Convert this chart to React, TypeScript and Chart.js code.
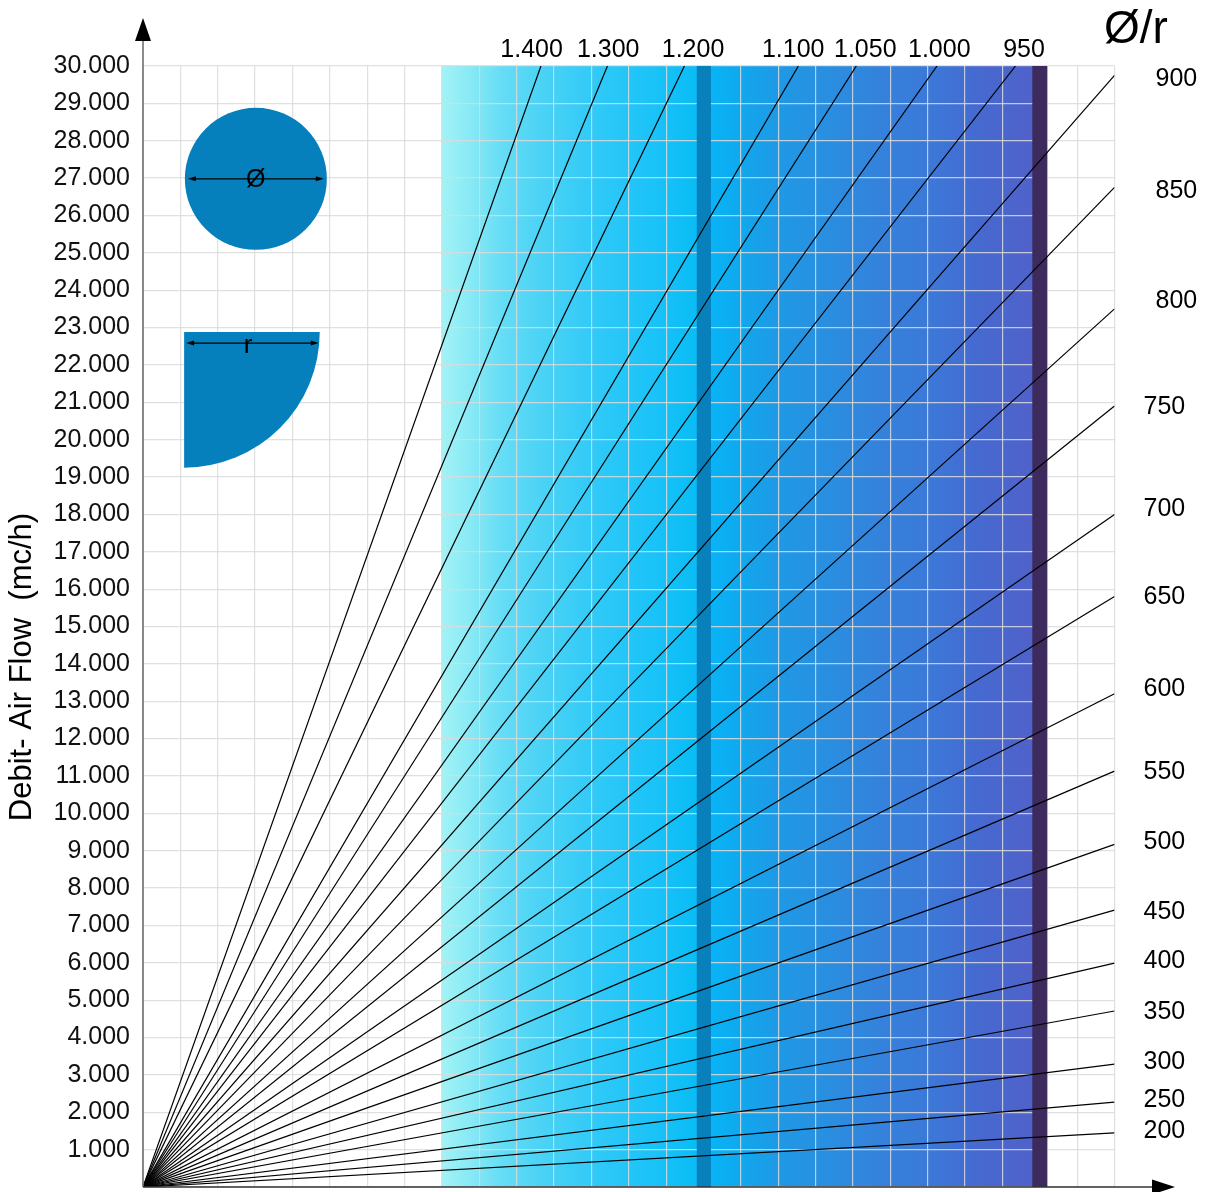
import React, { useEffect, useRef } from 'react';
import { Chart, registerables } from 'chart.js';
Chart.register(...registerables);

const FONT = '"Liberation Sans", Arial, Helvetica, sans-serif';

// Lines leaving through the top edge (flow = 30.000): diameter and x at the top edge
const topDiameters = [1400, 1300, 1200, 1100, 1050, 1000, 950];
const topEndX = [10.65, 12.43, 14.49, 17.54, 19.09, 21.25, 23.35];
// where each top label is centred (x value)
const topLabelX = [10.4, 12.45, 14.72, 17.4, 19.33, 21.31, 23.58];

// Lines leaving through the right edge (x = 26): diameter and flow at the right edge
const rightDiameters = [900, 850, 800, 750, 700, 650, 600, 550, 500, 450, 400, 350, 300, 250, 200];
const rightEndFlow = [29750, 26750, 23500, 20900, 18000, 15800, 13200, 11130, 9170, 7410, 5990, 4710, 3290, 2270, 1450];
// flow level at which each right label is centred
const rightLabelFlow = [29710, 26720, 23760, 20920, 18190, 15840, 13380, 11150, 9280, 7420, 6090, 4730, 3400, 2380, 1550];

const X_MIN = 0;
const X_MAX = 26;
const Y_MIN = 0;
const Y_MAX = 30000;
const Y_STEP = 1000;

// coloured background band and dark stripes (x values)
const bandRange = [8, 24.2];
const stripeRanges = [
  [14.82, 15.2],
  [23.8, 24.2],
];
const stripeColors = ['#0880bc', '#3d2b5d'];
const bandStops: [number, string][] = [
  [8.0, '#a2f3f5'],
  [8.8, '#86e9f5'],
  [9.6, '#66ddf5'],
  [10.6, '#4cd3f5'],
  [12.2, '#2ec9f7'],
  [13.6, '#1bc3f8'],
  [14.8, '#0abcf5'],
  [15.2, '#08b4f6'],
  [16.0, '#10a8ee'],
  [17.0, '#1f99e5'],
  [18.4, '#2a8ee0'],
  [19.7, '#3482dc'],
  [21.1, '#3c78d8'],
  [22.4, '#4669d0'],
  [24.2, '#5260c8'],
];

const fmt = (v: number) =>
  v >= 1000 ? `${Math.floor(v / 1000)}.${String(Math.round(v % 1000)).padStart(3, '0')}` : String(v);

function arrowLine(ctx: CanvasRenderingContext2D, x1: number, x2: number, y: number) {
  ctx.save();
  ctx.strokeStyle = '#000';
  ctx.fillStyle = '#000';
  ctx.lineWidth = 1.2;
  ctx.beginPath();
  ctx.moveTo(x1 + 3, y);
  ctx.lineTo(x2 - 3, y);
  ctx.stroke();
  ctx.beginPath();
  ctx.moveTo(x1, y);
  ctx.lineTo(x1 + 8, y - 2.5);
  ctx.lineTo(x1 + 8, y + 2.5);
  ctx.closePath();
  ctx.fill();
  ctx.beginPath();
  ctx.moveTo(x2, y);
  ctx.lineTo(x2 - 8, y - 2.5);
  ctx.lineTo(x2 - 8, y + 2.5);
  ctx.closePath();
  ctx.fill();
  ctx.restore();
}

const bandPlugin = {
  id: 'band',
  beforeDraw(chart: any) {
    const { ctx, chartArea, scales } = chart;
    const xs = scales.x;
    const x0 = xs.getPixelForValue(bandRange[0]);
    const x1 = xs.getPixelForValue(bandRange[1]);
    const g = ctx.createLinearGradient(x0, 0, x1, 0);
    bandStops.forEach(([v, c]) => g.addColorStop((v - bandRange[0]) / (bandRange[1] - bandRange[0]), c));
    ctx.save();
    ctx.fillStyle = g;
    ctx.fillRect(x0, chartArea.top, x1 - x0, chartArea.bottom - chartArea.top);
    ctx.restore();
  },
  beforeDatasetsDraw(chart: any) {
    const { ctx, chartArea, scales } = chart;
    const xs = scales.x;
    ctx.save();
    stripeRanges.forEach(([a, b], i) => {
      const p0 = xs.getPixelForValue(a);
      const p1 = xs.getPixelForValue(b);
      ctx.fillStyle = stripeColors[i];
      ctx.fillRect(p0, chartArea.top, p1 - p0, chartArea.bottom - chartArea.top);
    });
    ctx.restore();
  },
};

const overlayPlugin = {
  id: 'overlay',
  afterDraw(chart: any) {
    const { ctx, chartArea, scales } = chart;
    const xs = scales.x;
    const ys = scales.y;
    const L = chartArea.left;
    const B = chartArea.bottom;
    ctx.save();

    // axes with arrows
    ctx.strokeStyle = '#707070';
    ctx.lineWidth = 1.6;
    ctx.beginPath();
    ctx.moveTo(L, B);
    ctx.lineTo(L, 40);
    ctx.stroke();
    ctx.fillStyle = '#000';
    ctx.beginPath();
    ctx.moveTo(L, 18);
    ctx.lineTo(L - 8, 41);
    ctx.lineTo(L + 8, 41);
    ctx.closePath();
    ctx.fill();

    ctx.strokeStyle = '#333';
    ctx.beginPath();
    ctx.moveTo(L, B);
    ctx.lineTo(1154, B);
    ctx.stroke();
    ctx.beginPath();
    ctx.moveTo(1175, B);
    ctx.lineTo(1152, B - 7.5);
    ctx.lineTo(1152, B + 7.5);
    ctx.closePath();
    ctx.fill();

    // icons: circle (Ø) and quarter disc (r)
    const blue = '#0680bc';
    const cx = xs.getPixelForValue(3.02);
    const cy = ys.getPixelForValue(26980);
    const cr = xs.getPixelForValue(1.9) - xs.getPixelForValue(0);
    ctx.fillStyle = blue;
    ctx.beginPath();
    ctx.arc(cx, cy, cr, 0, Math.PI * 2);
    ctx.fill();
    arrowLine(ctx, cx - cr + 3, cx + cr - 3, cy);
    ctx.fillStyle = '#000';
    ctx.font = `25px ${FONT}`;
    ctx.textAlign = 'center';
    ctx.textBaseline = 'middle';
    ctx.fillText('Ø', cx, cy + 1);

    const qx = xs.getPixelForValue(1.1);
    const qy = ys.getPixelForValue(22880);
    const qr = xs.getPixelForValue(3.63) - xs.getPixelForValue(0);
    ctx.fillStyle = blue;
    ctx.beginPath();
    ctx.moveTo(qx, qy);
    ctx.lineTo(qx + qr, qy);
    ctx.arc(qx, qy, qr, 0, Math.PI / 2);
    ctx.closePath();
    ctx.fill();
    arrowLine(ctx, qx + 2, qx + qr - 1, qy + 11);
    ctx.fillStyle = '#000';
    ctx.font = `26px ${FONT}`;
    ctx.textBaseline = 'alphabetic';
    ctx.fillText('r', qx + 64, qy + 21);

    // diameter labels at the top edge
    ctx.font = `25px ${FONT}`;
    ctx.textAlign = 'center';
    ctx.textBaseline = 'alphabetic';
    topDiameters.forEach((d, i) => {
      const px = xs.getPixelForValue(topLabelX[i]);
      ctx.fillText(fmt(d), px, chartArea.top - 9);
    });

    // diameter labels at the right edge
    ctx.textAlign = 'left';
    ctx.textBaseline = 'alphabetic';
    rightDiameters.forEach((d, i) => {
      const py = ys.getPixelForValue(rightLabelFlow[i]);
      const px = chartArea.right + (d >= 800 ? 41 : 29);
      ctx.fillText(fmt(d), px, py + 9);
    });

    // header
    ctx.font = `46px ${FONT}`;
    ctx.textBaseline = 'alphabetic';
    ctx.fillText('Ø/r', 1104, 43);

    // y axis title
    ctx.translate(22, 667);
    ctx.rotate(-Math.PI / 2);
    ctx.font = `31px ${FONT}`;
    ctx.textAlign = 'center';
    ctx.textBaseline = 'middle';
    ctx.fillText('Debit- Air Flow  (mc/h)', 0, 0);

    ctx.restore();
  },
};

export default function App() {
  const ref = useRef<HTMLCanvasElement>(null);
  useEffect(() => {
    document.body.style.margin = '0';
    const canvas = ref.current;
    if (!canvas) return;
    const lineStyle = {
      borderColor: '#000',
      borderWidth: 1.2,
      pointRadius: 0,
      fill: false,
      tension: 0,
    };
    const datasets = [
      ...topDiameters.map((d, i) => ({
        label: fmt(d),
        data: [
          { x: 0, y: 0 },
          { x: topEndX[i], y: Y_MAX },
        ],
        ...lineStyle,
      })),
      ...rightDiameters.map((d, i) => ({
        label: fmt(d),
        data: [
          { x: 0, y: 0 },
          { x: X_MAX, y: rightEndFlow[i] },
        ],
        ...lineStyle,
      })),
    ];
    const gridColor = 'rgba(218,218,218,0.85)';
    const chart = new Chart(canvas, {
      type: 'line',
      data: { datasets },
      options: {
        animation: false,
        responsive: false,
        maintainAspectRatio: false,
        layout: { padding: { left: 0, top: 66, right: 95.5, bottom: 5 } },
        plugins: { legend: { display: false }, tooltip: { enabled: false } },
        scales: {
          x: {
            type: 'linear',
            min: X_MIN,
            max: X_MAX,
            ticks: { display: false, stepSize: 1 },
            grid: { color: gridColor, lineWidth: 1.2, drawTicks: false },
            border: { display: false },
            afterFit: (s: any) => {
              s.height = 0;
              s.paddingLeft = 0;
              s.paddingRight = 0;
            },
          },
          y: {
            type: 'linear',
            min: Y_MIN,
            max: Y_MAX,
            ticks: {
              stepSize: Y_STEP,
              color: '#111',
              padding: 13,
              font: { family: FONT, size: 25 },
              callback: (v: any) => (Number(v) === 0 ? '' : fmt(Number(v))),
            },
            grid: { color: gridColor, lineWidth: 1.2, drawTicks: false },
            border: { display: false },
            afterFit: (s: any) => {
              s.width = 143;
              s.paddingTop = 0;
              s.paddingBottom = 0;
            },
          },
        },
      } as any,
      plugins: [bandPlugin, overlayPlugin],
    });
    return () => chart.destroy();
  }, []);
  return <canvas ref={ref} width={1210} height={1192} style={{ display: 'block' }} />;
}
